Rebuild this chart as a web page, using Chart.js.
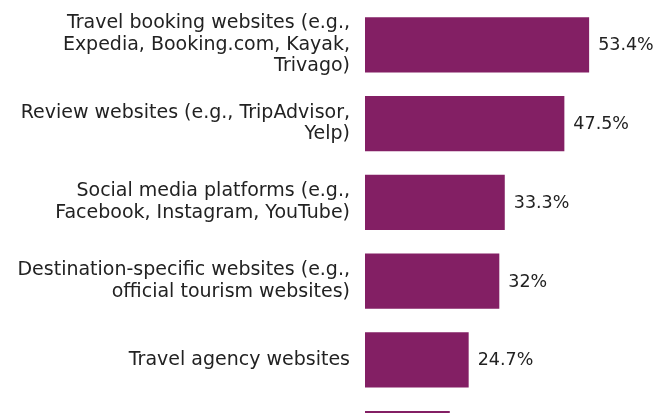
<!DOCTYPE html>
<html lang="en">
<head>
    <meta charset="UTF-8">
    <title>Travel information sources</title>
    <script src="https://cdn.jsdelivr.net/npm/chart.js"></script>
    <style>
        html, body {
            margin: 0;
            padding: 0;
            background: #ffffff;
            overflow: hidden;
        }

        .chart-box {
            position: relative;
            width: 663px;
            height: 478px;
        }
    </style>
</head>
<body>
    <div class="chart-box">
        <canvas id="barChart"></canvas>
    </div>

    <script>
        const categories = [
            ['Travel booking websites (e.g.,', 'Expedia, Booking.com, Kayak,', 'Trivago)'],
            ['Review websites (e.g., TripAdvisor,', 'Yelp)'],
            ['Social media platforms (e.g.,', 'Facebook, Instagram, YouTube)'],
            ['Destination-specific websites (e.g.,', 'official tourism websites)'],
            'Travel agency websites',
            ''
        ];
        const shares = [53.4, 47.5, 33.3, 32, 24.7, 20.2];

        const barColor = '#831f64';
        const textColor = '#222222';
        const fontFamily = "'DejaVu Sans', sans-serif";

        // value labels at the end of each bar
        const valueLabels = {
            id: 'valueLabels',
            afterDatasetsDraw(chart) {
                const ctx = chart.ctx;
                const meta = chart.getDatasetMeta(0);
                ctx.save();
                ctx.font = '17.5px ' + fontFamily;
                ctx.fillStyle = textColor;
                ctx.textAlign = 'left';
                ctx.textBaseline = 'middle';
                meta.data.forEach(function (bar, i) {
                    ctx.fillText(shares[i] + '%', bar.x + 9, bar.y + 1);
                });
                ctx.restore();
            }
        };

        new Chart(document.getElementById('barChart'), {
            type: 'bar',
            data: {
                labels: categories,
                datasets: [{
                    data: shares,
                    backgroundColor: barColor,
                    borderWidth: 0,
                    barPercentage: 0.7,
                    categoryPercentage: 1
                }]
            },
            options: {
                indexAxis: 'y',
                responsive: true,
                maintainAspectRatio: false,
                animation: false,
                layout: {
                    padding: { top: 5.5, right: 0, bottom: 0, left: 0 }
                },
                plugins: {
                    legend: { display: false },
                    tooltip: { enabled: false }
                },
                scales: {
                    x: {
                        display: false,
                        min: 0,
                        max: 71
                    },
                    y: {
                        grid: { display: false },
                        border: { display: false },
                        ticks: {
                            padding: 7,
                            color: textColor,
                            font: { family: fontFamily, size: 19, lineHeight: 1.14 }
                        },
                        afterFit(scale) {
                            scale.width = 365;
                            scale.paddingTop = 0;
                            scale.paddingBottom = 0;
                        }
                    }
                }
            },
            plugins: [valueLabels]
        });
    </script>
</body>
</html>
